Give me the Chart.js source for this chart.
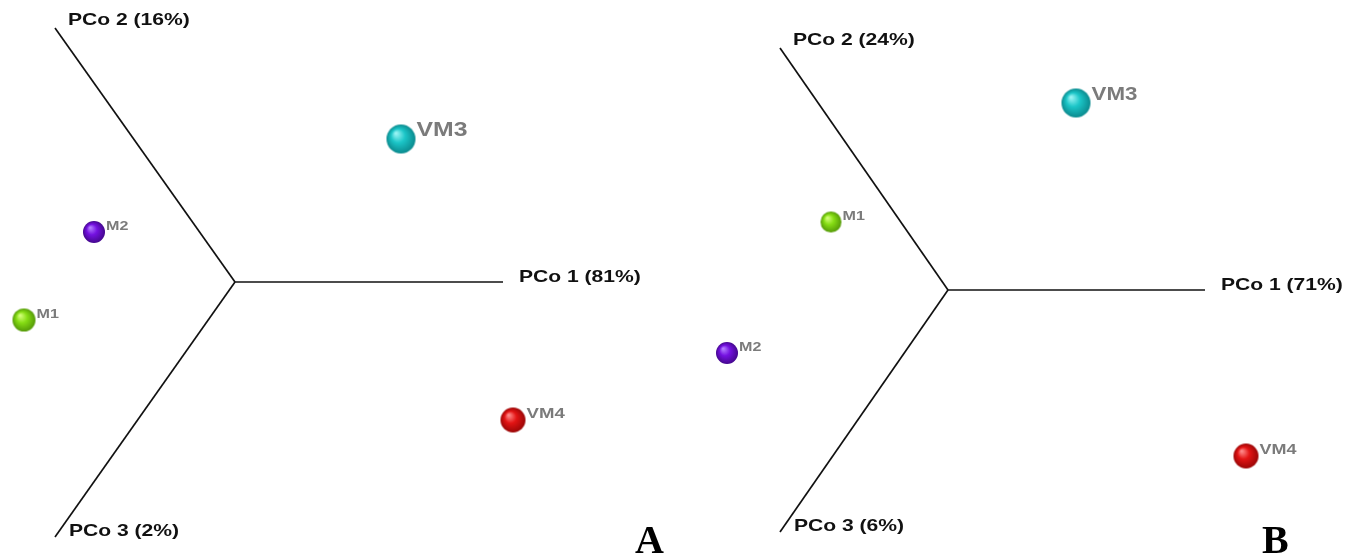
<!DOCTYPE html>
<html><head><meta charset="utf-8">
<script src="https://cdn.jsdelivr.net/npm/chart.js@4"></script>
<style>
html,body{margin:0;padding:0;background:#fff;width:1356px;height:556px;overflow:hidden}
.p{position:absolute;top:0;width:678px;height:556px}
</style></head><body>
<div class="p" style="left:0"><canvas id="cA" width="678" height="556"></canvas></div>
<div class="p" style="left:678px"><canvas id="cB" width="678" height="556"></canvas></div>
<script>
// ---- data (projected PCoA coordinates, origin = axes junction, y up) ----
const samplesA = ['VM3', 'M2', 'M1', 'VM4'];
const xA = [166, -141, -211, 278];
const yA = [143, 50, -38, -138];
const sizeA = [14.5, 11, 11.5, 12.5];

const samplesB = ['VM3', 'M1', 'M2', 'VM4'];
const xB = [128, -117, -221, 298];
const yB = [187, 68, -63, -166];
const sizeB = [14.5, 10.5, 11, 12.5];

// axis end points (PCo1, PCo2, PCo3)
const axisNamesA = ['PCo 1 (81%)', 'PCo 2 (16%)', 'PCo 3 (2%)'];
const axisEndXA = [268, -180, -180];
const axisEndYA = [0, 254, -255];

const axisNamesB = ['PCo 1 (71%)', 'PCo 2 (24%)', 'PCo 3 (6%)'];
const axisEndXB = [257, -168, -168];
const axisEndYB = [0, 242, -242];

const colors = {
  VM3: ['#9af4f4', '#1cc6c8', '#0b8a8e'],
  M2:  ['#b27cff', '#7411e0', '#44078e'],
  M1:  ['#d4ff7a', '#86dd14', '#559a08'],
  VM4: ['#ff8a8a', '#e31414', '#9a0606']
};

const STRETCH = 1.24;

function sphere(name, r) {
  const s = Math.ceil(r * 2 + 2);
  const c = document.createElement('canvas');
  c.width = s; c.height = s;
  const g = c.getContext('2d');
  const cx = s / 2, cy = s / 2;
  const [hi, mid, lo] = colors[name];
  const grad = g.createRadialGradient(cx - r * 0.35, cy - r * 0.4, r * 0.05, cx, cy, r);
  grad.addColorStop(0, hi);
  grad.addColorStop(0.45, mid);
  grad.addColorStop(1, lo);
  g.fillStyle = grad;
  g.beginPath(); g.arc(cx, cy, r, 0, Math.PI * 2); g.fill();
  return c;
}

function stretchedText(ctx, text, x, y, font, color) {
  ctx.save();
  ctx.font = font;
  ctx.fillStyle = color;
  ctx.textBaseline = 'middle';
  ctx.textAlign = 'left';
  ctx.translate(x, y);
  ctx.scale(STRETCH, 1);
  ctx.fillText(text, 0, 0);
  ctx.restore();
}

function makePanel(id, samples, xs, ys, sizes, axisNames, axEX, axEY, xmin, xmax, ymin, ymax, letter, letterX) {
  const axisDatasets = axEX.map((ex, i) => ({
    type: 'scatter',
    data: [{x: 0, y: 0}, {x: ex, y: axEY[i]}],
    showLine: true,
    borderColor: '#111',
    borderWidth: 1.7,
    pointRadius: 0,
    order: 2,
    clip: false
  }));
  const pts = {
    type: 'scatter',
    data: samples.map((s, i) => ({x: xs[i], y: ys[i]})),
    pointStyle: samples.map((s, i) => sphere(s, sizes[i])),
    pointRadius: sizes,
    order: 0,
    clip: false
  };
  const labelPlugin = {
    id: 'labels',
    afterDatasetsDraw(chart) {
      const ctx = chart.ctx;
      const meta = chart.getDatasetMeta(axisDatasets.length);
      meta.data.forEach((el, i) => {
        const r = sizes[i];
        const fs = samples[i] === 'VM3' ? (id === 'cA' ? 20 : 18) : (samples[i] === 'VM4' ? (id === 'cA' ? 15 : 14.5) : 13);
        stretchedText(ctx, samples[i], el.x + r + 1, el.y - fs * 0.42, 'bold ' + fs + 'px "Liberation Sans", Arial, sans-serif', '#7b7b7b');
      });
      const xs_ = chart.scales.x, ys_ = chart.scales.y;
      const f = 'bold 17px "Liberation Sans", Arial, sans-serif';
      stretchedText(ctx, axisNames[0], xs_.getPixelForValue(axEX[0]) + 16, ys_.getPixelForValue(axEY[0]) - 5, f, '#111');
      stretchedText(ctx, axisNames[1], xs_.getPixelForValue(axEX[1]) + 13, ys_.getPixelForValue(axEY[1]) - 8, f, '#111');
      stretchedText(ctx, axisNames[2], xs_.getPixelForValue(axEX[2]) + 14, ys_.getPixelForValue(axEY[2]) - 6, f, '#111');
      ctx.save();
      ctx.font = 'bold 40px "Liberation Serif", "Times New Roman", serif';
      ctx.fillStyle = '#000';
      ctx.textBaseline = 'alphabetic';
      ctx.fillText(letter, letterX, 553);
      ctx.restore();
    }
  };
  return new Chart(document.getElementById(id), {
    type: 'scatter',
    data: { datasets: [...axisDatasets, pts] },
    options: {
      responsive: false,
      animation: false,
      layout: { padding: 0, autoPadding: false },
      plugins: { legend: { display: false }, tooltip: { enabled: false } },
      scales: {
        x: { type: 'linear', display: false, min: xmin, max: xmax },
        y: { type: 'linear', display: false, min: ymin, max: ymax }
      }
    },
    plugins: [labelPlugin]
  });
}

makePanel('cA', samplesA, xA, yA, sizeA, axisNamesA, axisEndXA, axisEndYA, -235, 443, -274, 282, 'A', 635);
makePanel('cB', samplesB, xB, yB, sizeB, axisNamesB, axisEndXB, axisEndYB, -270, 408, -266, 290, 'B', 1262 - 678);
</script>
</body></html>
